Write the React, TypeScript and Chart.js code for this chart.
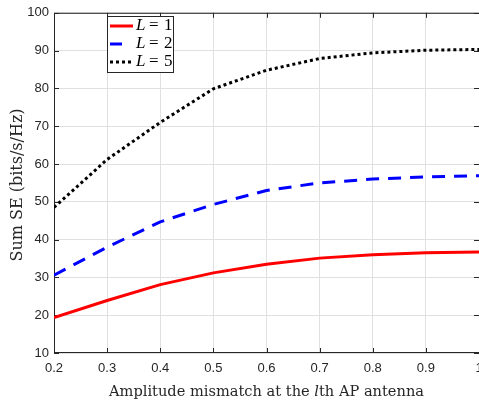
import React, { useEffect, useRef } from "react";
import { Chart, registerables } from "chart.js";

Chart.register(...registerables);

const xValues = [0.2, 0.3, 0.4, 0.5, 0.6, 0.7, 0.8, 0.9, 1.0];
const seriesL1 = [19.4, 23.9, 28.1, 31.2, 33.5, 35.1, 36.0, 36.5, 36.7];
const seriesL2 = [30.6, 38.0, 44.7, 49.3, 53.0, 55.0, 56.0, 56.6, 56.9];
const seriesL5 = [48.5, 61.2, 71.0, 79.9, 84.8, 87.9, 89.4, 90.1, 90.3];
const xTicks = [0.2, 0.3, 0.4, 0.5, 0.6, 0.7, 0.8, 0.9, 1.0];
const yTicks = [10, 20, 30, 40, 50, 60, 70, 80, 90, 100];
const legendNames = ["1", "2", "5"];
const xTitleParts = ["Amplitude mismatch at the ", "l", "th AP antenna"];
const yTitle = "Sum SE (bits/s/Hz)";

const AXIS = "#262626";
const SERIF = "'DejaVu Serif', 'Liberation Serif', serif";
const LSERIF = "'Liberation Serif', 'DejaVu Serif', serif";
const SANS = "'Liberation Sans', Arial, sans-serif";

const styles = [
  { color: "#ff0000", dash: [] as number[], width: 3 },
  { color: "#0000ff", dash: [13, 9], width: 3 },
  { color: "#000000", dash: [3, 3], width: 3 },
];

const decorPlugin = {
  id: "decor",
  beforeDatasetsDraw(chart: any) {
    const { ctx, chartArea: a, scales } = chart;
    ctx.save();
    ctx.strokeStyle = AXIS;
    ctx.lineWidth = 1;
    ctx.beginPath();
    ctx.rect(a.left + 0.5, a.top + 0.5, a.right - a.left, a.bottom - a.top - 1);
    ctx.stroke();
    const tl = 5;
    ctx.beginPath();
    for (const t of xTicks) {
      const x = Math.round(scales.x.getPixelForValue(t)) + 0.5;
      ctx.moveTo(x, a.bottom);
      ctx.lineTo(x, a.bottom - tl);
      ctx.moveTo(x, a.top);
      ctx.lineTo(x, a.top + tl);
    }
    for (const t of yTicks) {
      const y = Math.round(scales.y.getPixelForValue(t)) + 0.5;
      ctx.moveTo(a.left, y);
      ctx.lineTo(a.left + tl, y);
      ctx.moveTo(a.right, y);
      ctx.lineTo(a.right - tl, y);
    }
    ctx.stroke();
    ctx.restore();
  },
  afterDraw(chart: any) {
    const { ctx, chartArea: a } = chart;
    ctx.save();
    // x title with italic l
    const fs = 14.6;
    const fN = `${fs}px ${SERIF}`;
    const fI = `italic ${fs}px ${SERIF}`;
    ctx.fillStyle = AXIS;
    ctx.textBaseline = "middle";
    ctx.textAlign = "left";
    ctx.font = fN;
    const w0 = ctx.measureText(xTitleParts[0]).width;
    const w2 = ctx.measureText(xTitleParts[2]).width;
    ctx.font = fI;
    const w1 = ctx.measureText(xTitleParts[1]).width;
    const total = w0 + w1 + w2;
    let x = (a.left + a.right) / 2 - total / 2;
    const ty = 392;
    ctx.font = fN;
    ctx.fillText(xTitleParts[0], x, ty);
    x += w0;
    ctx.font = fI;
    ctx.fillText(xTitleParts[1], x, ty);
    x += w1;
    ctx.font = fN;
    ctx.fillText(xTitleParts[2], x, ty);

    // y title
    ctx.save();
    ctx.translate(18, 185);
    ctx.rotate(-Math.PI / 2);
    ctx.textAlign = "center";
    ctx.font = `16px ${SERIF}`;
    ctx.fillText(yTitle, 0, 0);
    ctx.restore();

    // legend
    const bx = 107.5, by = 16.5, bw = 66, bh = 56;
    ctx.fillStyle = "#ffffff";
    ctx.fillRect(bx, by, bw, bh);
    ctx.strokeStyle = AXIS;
    ctx.lineWidth = 1;
    ctx.strokeRect(bx, by, bw, bh);
    const rows = [26, 44, 62];
    for (let i = 0; i < 3; i++) {
      const s = styles[i];
      ctx.strokeStyle = s.color;
      ctx.lineWidth = s.width;
      ctx.setLineDash(s.dash);
      ctx.beginPath();
      ctx.moveTo(110, rows[i]);
      ctx.lineTo(i === 1 ? 122 : 133, rows[i]);
      ctx.stroke();
      ctx.setLineDash([]);
      ctx.fillStyle = "#000";
      ctx.textAlign = "left";
      ctx.font = `italic 17px ${LSERIF}`;
      ctx.fillText("L", 136, rows[i]);
      ctx.font = `17px ${LSERIF}`;
      ctx.fillText("=", 149, rows[i]);
      ctx.fillText(legendNames[i], 164, rows[i]);
    }
    ctx.restore();
  },
};

export default function App() {
  const ref = useRef<HTMLCanvasElement>(null);
  useEffect(() => {
    document.body.style.margin = "0";
    document.body.style.overflow = "hidden";
    document.documentElement.style.overflow = "hidden";
    const mk = (data: number[], i: number, label: string) => ({
      label,
      data: xValues.map((x, k) => ({ x, y: data[k] })),
      borderColor: styles[i].color,
      borderWidth: styles[i].width,
      borderDash: styles[i].dash,
      pointRadius: 0,
      fill: false,
      tension: 0,
    });
    const chart = new Chart(ref.current!, {
      type: "line",
      data: {
        datasets: [
          mk(seriesL1, 0, "L = 1"),
          mk(seriesL2, 1, "L = 2"),
          mk(seriesL5, 2, "L = 5"),
        ],
      },
      options: {
        responsive: false,
        animation: false,
        layout: { padding: { top: 5, right: 21, left: 0, bottom: 0 } },
        plugins: { legend: { display: false }, tooltip: { enabled: false } },
        scales: {
          x: {
            type: "linear",
            min: 0.2,
            max: 1.0,
            afterBuildTicks: (s: any) => {
              s.ticks = xTicks.map((v) => ({ value: v }));
            },
            afterFit: (s: any) => {
              s.height = 48;
            },
            grid: { color: "#e0e0e0", drawTicks: false },
            border: { display: false },
            ticks: {
              color: AXIS,
              font: { family: SANS, size: 13 },
              padding: 8,
              maxRotation: 0,
              autoSkip: false,
              callback: (v: any) => (Number(v) === 1 ? "1" : Number(v).toFixed(1)),
            },
          },
          y: {
            type: "linear",
            min: 10,
            max: 100,
            afterBuildTicks: (s: any) => {
              s.ticks = yTicks.map((v) => ({ value: v }));
            },
            afterFit: (s: any) => {
              s.width = 54;
            },
            grid: { color: "#e0e0e0", drawTicks: false },
            border: { display: false },
            ticks: {
              color: AXIS,
              font: { family: SANS, size: 13 },
              padding: 5,
              autoSkip: false,
            },
          },
        },
      },
      plugins: [decorPlugin],
    } as any);
    return () => chart.destroy();
  }, []);
  return (
    <div style={{ width: 500, height: 401 }}>
      <canvas ref={ref} width={500} height={401} style={{ display: "block" }} />
    </div>
  );
}
